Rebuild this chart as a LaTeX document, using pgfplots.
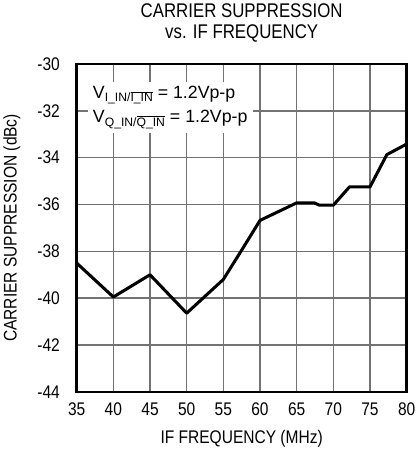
\documentclass[border=0pt]{standalone}
\usepackage{fontspec}
\setmainfont{Liberation Sans}[FakeStretch=0.85]
\newfontfamily\annfont{Liberation Sans}
\usepackage{pgfplots}
\pgfplotsset{compat=1.18}
\begin{document}
\begin{tikzpicture}
\begin{axis}[
  at={(87bp,57bp)}, anchor=south west,
  scale only axis, width=324bp, height=322bp,
  xmin=35, xmax=80, ymin=-44, ymax=-30,
  xtick={35,40,...,80}, ytick={-44,-42,...,-30},
  xticklabels={35,40,45,50,55,60,65,70,75,80},
  yticklabels={-44,-42,-40,-38,-36,-34,-32,-30},
  grid=major,
  grid style={black!55, line width=1.6bp},
  major tick length=0pt,
  axis line style={line width=2.6bp},
  ticklabel style={font=\fontsize{18}{18}\selectfont},
  yticklabel style={anchor=east, xshift=-13bp},
  xticklabel style={anchor=north, yshift=-7bp},
  xlabel={IF FREQUENCY (MHz)},
  ylabel={CARRIER SUPPRESSION (dBc)},
  label style={font=\fontsize{18}{18}\selectfont},
  xlabel style={at={(axis description cs:0.5,0)}, anchor=base, yshift=-51bp},
  ylabel style={at={(axis description cs:-0.182,0.5)}, anchor=base},
  title={CARRIER SUPPRESSION\\vs. IF FREQUENCY},
  title style={at={(axis description cs:0.5,1)}, anchor=base, align=center,
               font=\fontsize{19.5}{21}\selectfont, yshift=19bp},
]
\addplot[black, line width=3bp, line join=round] coordinates {
  (35,-38.5) (40,-39.95) (45,-39.0) (50,-40.64) (55,-39.2) (57.5,-37.95)
  (60,-36.68) (65,-35.93) (67.4,-35.93) (68.1,-36.03) (70,-36.03)
  (72.2,-35.25) (75,-35.25) (77.3,-33.87) (80,-33.42)
};
\node[anchor=base west, fill=white, inner xsep=5bp, inner ysep=4bp, align=left,
      font=\annfont\fontsize{17.5}{24}\selectfont] at (axis cs:36.5,-32.52)
  {V{\fontsize{12}{12}\selectfont\raisebox{-3bp}{I\_IN/$\overline{\mbox{I\_IN}}$}} = 1.2Vp-p\\
   V{\fontsize{12}{12}\selectfont\raisebox{-3bp}{Q\_IN/$\overline{\mbox{Q\_IN}}$}} = 1.2Vp-p};
\end{axis}
\end{tikzpicture}
\end{document}
